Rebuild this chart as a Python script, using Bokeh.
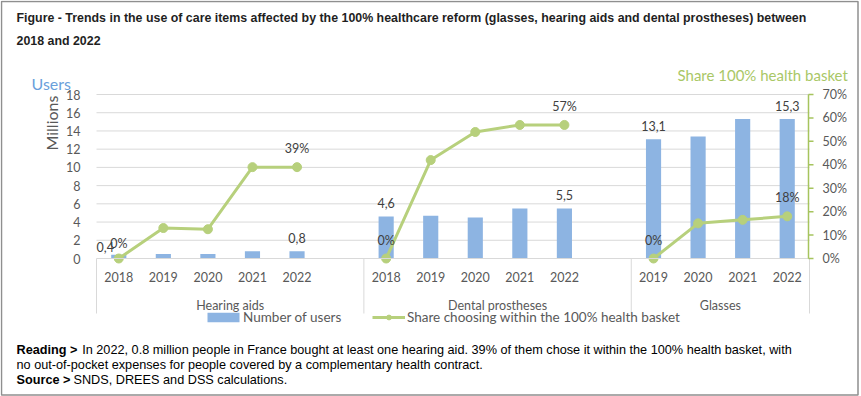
import math
from bokeh.plotting import figure
from bokeh.models import Range1d, Label, Legend, LegendItem
from bokeh.core.properties import value
from bokeh.embed import file_html
from bokeh.resources import INLINE

# ---------------- data ----------------
groups = ["Hearing aids", "Dental prostheses", "Glasses"]
hearing_years = ["2018", "2019", "2020", "2021", "2022"]
hearing_users = [0.4, 0.5, 0.5, 0.8, 0.8]
hearing_share = [0, 13, 12.5, 39, 39]
dental_years = ["2018", "2019", "2020", "2021", "2022"]
dental_users = [4.6, 4.7, 4.5, 5.5, 5.5]
dental_share = [0, 42, 54, 57, 57]
glasses_years = ["2019", "2020", "2021", "2022"]
glasses_users = [13.1, 13.4, 15.3, 15.3]
glasses_share = [0, 15, 16.5, 18]

users_ticks = [0, 2, 4, 6, 8, 10, 12, 14, 16, 18]
share_ticks = [0, 10, 20, 30, 40, 50, 60, 70]

title_lines = ["Figure - Trends in the use of care items affected by the 100% healthcare reform "
               "(glasses, hearing aids and dental prostheses) between", "2018 and 2022"]
users_title = "Users"
millions_title = "Millions"
share_title = "Share 100% health basket"
legend_users = "Number of users"
legend_share = "Share choosing within the 100% health basket"
reading_bold = "Reading >"
reading_text = ("In 2022, 0.8 million people in France bought at least one hearing aid. 39% of them "
                "chose it within the 100% health basket, with")
reading_text2 = "no out-of-pocket expenses for people covered by a complementary health contract."
source_bold = "Source >"
source_text = "SNDS, DREES and DSS calculations."

# ---------------- layout constants (pixels) ----------------
W, H = 860, 396
PL, PR = 96, 809   # plot area left / right
Y0 = 258           # pixel row of value 0
YT = 94            # pixel row of the top tick
BAR_C = "#8DB4E2"
LINE_C = "#B7D07C"
AXIS_G = "#A6C45E"
TXT = "#595959"
LBL = "#404040"
GRID_C = "#D9D9D9"
CHART_FONT = "Lato"
NOTE_FONT = "Liberation Sans"
FS = "12.5px"

series = [(hearing_years, hearing_users, hearing_share),
          (dental_years, dental_users, dental_share),
          (glasses_years, glasses_users, glasses_share)]

n_slots = sum(len(s[0]) for s in series) + len(series) - 1
SW = (PR - PL) / n_slots
upx = (Y0 - YT) / users_ticks[-1]
ppx = (Y0 - YT) / share_ticks[-1]


def fx(px):
    return (px - PL) / SW


def fy(py):
    return (Y0 - py) / upx


def fp(py):
    return (Y0 - py) / ppx


p = figure(width=W, height=H, output_backend="svg", toolbar_location=None, title=None,
           x_axis_location=None, y_axis_location=None,
           x_range=Range1d(fx(0), fx(W)), y_range=Range1d(fy(H), fy(0)),
           min_border=0, background_fill_color="white", border_fill_color="white")
p.outline_line_color = None
p.extra_y_ranges = {"pct": Range1d(fp(H), fp(0))}
for g in p.grid:
    g.visible = False

# outer frame of the figure
p.quad(left=[fx(1)], right=[fx(857.5)], top=[fy(1)], bottom=[fy(394.5)],
       fill_color=None, line_color="#8f8f8f", line_width=1.5)

# gridlines
p.segment(x0=[0] * (len(users_ticks) - 1), x1=[n_slots] * (len(users_ticks) - 1),
          y0=users_ticks[1:], y1=users_ticks[1:], line_color=GRID_C, line_width=1)

# build slots
bx, bu, lx, ls, yx, yt = [], [], [], [], [], []
bars_lbl_x, bars_lbl_y, bars_lbl_t = [], [], []
pct_lbl_x, pct_lbl_y, pct_lbl_t = [], [], []
seps, group_centers = [0], []
offset = 0
for gi, (years, users, share) in enumerate(series):
    n = len(years)
    for i in range(n):
        x = offset + i + 0.5
        bx.append(x); bu.append(users[i])
        lx.append(x); ls.append(share[i])
        yx.append(x); yt.append(years[i])
    for i in (0, n - 1):
        x = offset + i + 0.5
        special = (gi == 0 and i == 0)
        bars_lbl_x.append(x - (13.5 / SW if special else 0))
        bars_lbl_y.append(users[i] + (7.5 if special else 13.5) / upx)
        bars_lbl_t.append(f"{users[i]:.1f}".replace(".", ","))
        pct_lbl_x.append(x)
        pct_lbl_y.append(share[i] + (15.5 if special else 18.5) / ppx)
        pct_lbl_t.append(f"{round(share[i])}%")
    end = offset + n + (1 if gi < len(series) - 1 else 0)
    group_centers.append((offset + end) / 2)
    seps.append(end)
    offset = end
    lx.append(float("nan")); ls.append(float("nan"))

bars = p.vbar(x=bx, top=bu, width=0.34, fill_color=BAR_C, line_color=None)
line = p.line(x=lx, y=ls, y_range_name="pct", line_color=LINE_C, line_width=3)
dots = p.scatter(x=lx, y=ls, y_range_name="pct", size=9, fill_color=LINE_C, line_color=LINE_C)

# category axis
p.segment(x0=[seps[0]], y0=[0], x1=[seps[-1]], y1=[0], line_color=GRID_C, line_width=1)
p.segment(x0=seps, y0=[0] * len(seps), x1=seps, y1=[fy(313)] * len(seps),
          line_color=GRID_C, line_width=1)
p.text(x=yx, y=[fy(276.7)] * len(yx), text=yt, text_align="center", text_baseline="middle",
       text_font=value(CHART_FONT), text_font_size=FS, text_color=TXT)
p.text(x=group_centers, y=[fy(304.7)] * len(groups), text=groups, text_align="center",
       text_baseline="middle", text_font=value(CHART_FONT), text_font_size=FS,
       text_color=TXT)

# left value axis (labels only)
p.text(x=[fx(80)] * len(users_ticks), y=users_ticks, text=[str(t) for t in users_ticks],
       text_align="right", text_baseline="middle", text_font=value(CHART_FONT),
       text_font_size=FS, text_color=TXT)

# right share axis
p.segment(x0=[fx(808)], x1=[fx(808)], y0=[share_ticks[0]], y1=[share_ticks[-1]],
          y_range_name="pct", line_color=AXIS_G, line_width=1.5)
p.segment(x0=[fx(808)] * len(share_ticks), x1=[fx(813)] * len(share_ticks),
          y0=share_ticks, y1=share_ticks, y_range_name="pct", line_color=AXIS_G, line_width=1.5)
p.text(x=[fx(822)] * len(share_ticks), y=share_ticks, text=[f"{t}%" for t in share_ticks],
       y_range_name="pct", text_align="left", text_baseline="middle",
       text_font=value(CHART_FONT), text_font_size=FS, text_color=TXT)

# data labels
p.text(x=bars_lbl_x, y=bars_lbl_y, text=bars_lbl_t, text_align="center", text_baseline="middle",
       text_font=value(CHART_FONT), text_font_size=FS, text_color=LBL)
p.text(x=pct_lbl_x, y=pct_lbl_y, text=pct_lbl_t, y_range_name="pct", text_align="center",
       text_baseline="middle", text_font=value(CHART_FONT), text_font_size=FS,
       text_color=LBL)

# legends
common = dict(orientation="horizontal", glyph_height=12, label_height=12, padding=0, margin=0,
              spacing=0, border_line_color=None, background_fill_color=None,
              background_fill_alpha=0,
              label_text_font=CHART_FONT, label_text_font_size="13.5px",
              label_text_color=TXT)
lg1 = Legend(items=[LegendItem(label=legend_users, renderers=[bars])], location=(203, 71),
             glyph_width=40, label_standoff=0, **common)
lg2 = Legend(items=[LegendItem(label=legend_share, renderers=[line, dots])], location=(372, 71),
             glyph_width=33, label_standoff=2, **common)
p.add_layout(lg1)
p.add_layout(lg2)


# titles and notes (y = vertical centre of capitals)
def lab(x, y, text, font, size, color="#000000", style="normal", angle=0.0):
    p.add_layout(Label(x=fx(x), y=fy(y), text=text, text_font=font, text_font_size=size,
                       text_color=color, text_font_style=style, text_baseline="middle",
                       text_align="left", angle=angle))


lab(16, 17.8, title_lines[0], NOTE_FONT, "12.4px", "#1f1f1f", "bold")
lab(16, 40.2, title_lines[1], NOTE_FONT, "12.4px", "#1f1f1f", "bold")
lab(31, 82.5, users_title, CHART_FONT, "16px", "#6A9FDB")
lab(51.2, 150, millions_title, CHART_FONT, "16px", TXT, angle=math.pi / 2)
lab(677, 74.2, share_title, CHART_FONT, "15px", "#A9C766")
lab(16, 349.2, reading_bold, NOTE_FONT, "12.7px", "#000000", "bold")
lab(81.7, 349.2, reading_text, NOTE_FONT, "12.7px")
lab(16, 364, reading_text2, NOTE_FONT, "12.7px")
lab(16, 379.3, source_bold, NOTE_FONT, "12.7px", "#000000", "bold")
lab(73, 379.3, source_text, NOTE_FONT, "12.7px")

open("out.html", "w").write(file_html(p, INLINE))
